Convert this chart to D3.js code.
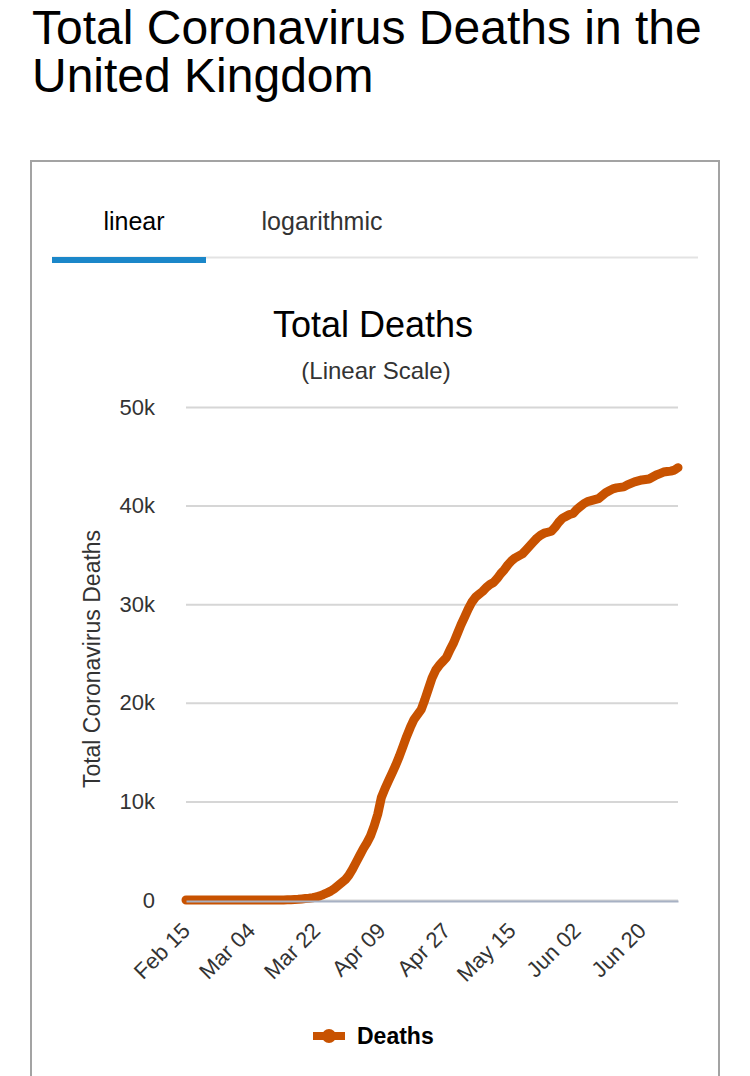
<!DOCTYPE html>
<html>

<head>
    <meta charset="UTF-8">
    <title>Total Coronavirus Deaths in the United Kingdom</title>
    <script src="https://d3js.org/d3.v7.min.js"></script>
    <style>
        body {
            margin: 0;
            background-color: #fff;
        }
        svg text {
            font-family: "Liberation Sans", Arial, Helvetica, sans-serif;
        }
    </style>
</head>

<body>
    <div id="chart"></div>
    <script>
        // data: one value per day, Feb 15 .. Jun 30 2020
        var startDate = '2020-02-15';
        var deaths = [
            0, 0, 0, 0, 0, 0, 0, 0, 0, 0,
            0, 0, 0, 0, 0, 0, 0, 0, 0, 1,
            2, 2, 3, 4, 6, 8, 8, 10, 21, 35,
            55, 71, 104, 144, 177, 233, 300, 420, 560, 720,
            900, 1150, 1450, 1750, 2050, 2500, 3100, 3800, 4500, 5200,
            5800, 6500, 7500, 8700, 10400, 11300, 12100, 12900, 13700, 14600,
            15600, 16600, 17500, 18300, 18800, 19300, 20300, 21400, 22500, 23300,
            23800, 24200, 24600, 25400, 26100, 27000, 27900, 28700, 29500, 30200,
            30700, 31000, 31300, 31700, 32000, 32200, 32600, 33100, 33500, 34000,
            34400, 34700, 34900, 35100, 35500, 35900, 36300, 36700, 37000, 37200,
            37300, 37400, 37800, 38300, 38700, 38900, 39100, 39200, 39600, 39900,
            40200, 40400, 40500, 40600, 40700, 41000, 41300, 41500, 41700, 41800,
            41850, 41900, 42100, 42250, 42400, 42500, 42600, 42650, 42700, 42900,
            43100, 43250, 43400, 43450, 43500, 43600, 43850
        ];
        var xTickLabels = ['Feb 15', 'Mar 04', 'Mar 22', 'Apr 09', 'Apr 27', 'May 15', 'Jun 02', 'Jun 20'];
        var yTicks = [0, 10000, 20000, 30000, 40000, 50000];

        (function(d3) {
            var width = 750;
            var height = 1076;
            var orange = '#c85200';

            var svg = d3.select('#chart')
                .append('svg')
                    .attr('width', width)
                    .attr('height', height);

            // page title
            svg.append('text')
                .attr('x', 32).attr('y', 44)
                .attr('font-size', 48)
                .attr('fill', '#000')
                .text('Total Coronavirus Deaths in the');
            svg.append('text')
                .attr('x', 32).attr('y', 92)
                .attr('font-size', 48)
                .attr('fill', '#000')
                .text('United Kingdom');

            // box
            svg.append('rect')
                .attr('x', 31).attr('y', 161)
                .attr('width', 688).attr('height', 940)
                .attr('fill', '#fff')
                .attr('stroke', '#a3a3a3')
                .attr('stroke-width', 2);

            // tabs
            svg.append('line')
                .attr('x1', 52).attr('x2', 698)
                .attr('y1', 257.5).attr('y2', 257.5)
                .attr('stroke', '#e3e3e3').attr('stroke-width', 2);
            svg.append('rect')
                .attr('x', 52).attr('y', 257)
                .attr('width', 154).attr('height', 6)
                .attr('fill', '#1b87c9');
            svg.append('text')
                .attr('x', 134).attr('y', 230)
                .attr('text-anchor', 'middle')
                .attr('font-size', 25)
                .attr('fill', '#000')
                .text('linear');
            svg.append('text')
                .attr('x', 322).attr('y', 230)
                .attr('text-anchor', 'middle')
                .attr('font-size', 25)
                .attr('fill', '#333')
                .text('logarithmic');

            // chart titles
            svg.append('text')
                .attr('x', 373).attr('y', 337)
                .attr('text-anchor', 'middle')
                .attr('font-size', 36)
                .attr('fill', '#000')
                .text('Total Deaths');
            svg.append('text')
                .attr('x', 376).attr('y', 379)
                .attr('text-anchor', 'middle')
                .attr('font-size', 24)
                .attr('fill', '#333')
                .text('(Linear Scale)');

            var parseDay = d3.timeParse('%Y-%m-%d');
            var parseTick = d3.timeParse('%Y %b %d');
            var day0 = parseDay(startDate);
            var series = deaths.map(function(v, i) {
                return { date: d3.timeDay.offset(day0, i), value: v };
            });

            var x = d3.scaleTime()
                .domain([series[0].date, series[series.length - 1].date])
                .range([186, 678]);
            var y = d3.scaleLinear()
                .domain([0, 50000])
                .range([900, 407]);

            // y axis + grid
            var yAxis = d3.axisLeft(y)
                .tickValues(yTicks)
                .tickSize(-492)
                .tickPadding(31)
                .tickFormat(function(d) { return d === 0 ? '0' : (d / 1000) + 'k'; });
            var gy = svg.append('g')
                .attr('transform', 'translate(186,0)')
                .call(yAxis);
            gy.select('.domain').remove();
            gy.selectAll('.tick line')
                .attr('stroke', '#d6d6d6')
                .attr('stroke-width', 2);
            gy.selectAll('.tick text')
                .attr('font-size', 22)
                .attr('fill', '#333')
                .attr('font-family', '"Liberation Sans", Arial, sans-serif');

            svg.append('text')
                .attr('transform', 'translate(100,659) rotate(-90)')
                .attr('text-anchor', 'middle')
                .attr('font-size', 23)
                .attr('fill', '#333')
                .text('Total Coronavirus Deaths');

            // line
            var line = d3.line()
                .x(function(d) { return x(d.date); })
                .y(function(d) { return y(d.value); });
            svg.append('path')
                .datum(series)
                .attr('d', line)
                .attr('fill', 'none')
                .attr('stroke', orange)
                .attr('stroke-width', 9)
                .attr('stroke-linejoin', 'round')
                .attr('stroke-linecap', 'round');

            // x axis
            var xAxis = d3.axisBottom(x)
                .tickValues(xTickLabels.map(function(s) { return parseTick('2020 ' + s); }))
                .tickSize(0)
                .tickFormat(d3.timeFormat('%b %d'));
            var gx = svg.append('g')
                .attr('transform', 'translate(0,901)')
                .call(xAxis);
            gx.select('.domain')
                .attr('stroke', '#a7b1c4')
                .attr('stroke-width', 2);
            gx.selectAll('.tick text')
                .attr('font-size', 22)
                .attr('fill', '#333')
                .attr('font-family', '"Liberation Sans", Arial, sans-serif')
                .attr('text-anchor', 'end')
                .attr('y', 0)
                .attr('dy', 0)
                .attr('transform', 'translate(5,31) rotate(-45)');

            // legend
            var lg = svg.append('g').attr('transform', 'translate(313,1036)');
            lg.append('line')
                .attr('x1', 0).attr('x2', 32)
                .attr('stroke', orange).attr('stroke-width', 8);
            lg.append('circle')
                .attr('cx', 16).attr('r', 7)
                .attr('fill', orange);
            lg.append('text')
                .attr('x', 44).attr('y', 8)
                .attr('font-size', 23)
                .attr('font-weight', 'bold')
                .attr('fill', '#000')
                .text('Deaths');

        })(window.d3);
    </script>
</body>

</html>
